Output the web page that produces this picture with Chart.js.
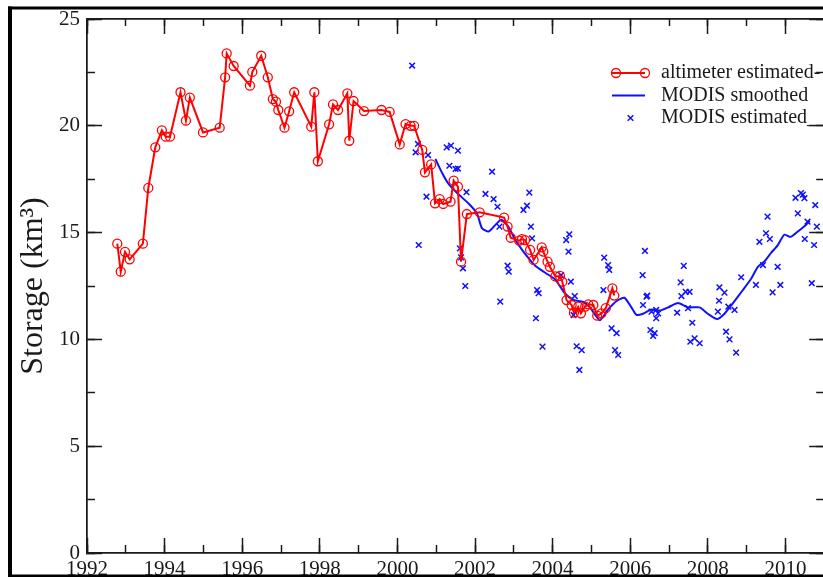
<!DOCTYPE html>
<html>
<head>
<meta charset="utf-8">
<title>Storage</title>
<script src="https://cdn.jsdelivr.net/npm/chart.js@4.4.1/dist/chart.umd.min.js"></script>
<style>
  html, body { margin: 0; padding: 0; background: #fff; overflow: hidden; }
  #wrap { position: relative; width: 823px; height: 577px; overflow: hidden; }
  canvas { display: block; }
</style>
</head>
<body>
<div id="wrap"><canvas id="chart" width="830" height="577"></canvas></div>
<script>
// altimeter estimated storage (km3)
const altYears = [
  1992.78, 1992.87, 1992.98, 1993.10, 1993.44, 1993.58, 1993.76, 1993.93, 1994.03, 1994.14,
  1994.41, 1994.55, 1994.65, 1994.99, 1995.42, 1995.56, 1995.60, 1995.78, 1996.20, 1996.26,
  1996.49, 1996.66, 1996.79, 1996.87, 1996.93, 1997.09, 1997.21, 1997.34, 1997.78, 1997.86,
  1997.95, 1998.24, 1998.34, 1998.47, 1998.71, 1998.76, 1998.87, 1999.14, 1999.59, 1999.80,
  2000.06, 2000.21, 2000.34, 2000.43, 2000.64, 2000.71, 2000.87, 2000.97, 2001.09, 2001.18,
  2001.37, 2001.45, 2001.56, 2001.64, 2001.79, 2002.12, 2002.75, 2002.84, 2002.92, 2003.14,
  2003.21, 2003.29, 2003.42, 2003.51, 2003.72, 2003.76, 2003.87, 2003.93, 2004.07, 2004.19,
  2004.25, 2004.36, 2004.49, 2004.55, 2004.66, 2004.73, 2004.84, 2004.92, 2005.05, 2005.15,
  2005.26, 2005.37, 2005.54, 2005.59
];
const altStorage = [
  14.48, 13.17, 14.10, 13.75, 14.48, 17.09, 18.99, 19.79, 19.49, 19.49,
  21.57, 20.24, 21.32, 19.69, 19.91, 22.27, 23.39, 22.80, 21.88, 22.52,
  23.28, 22.27, 21.25, 21.13, 20.74, 19.91, 20.68, 21.57, 19.96, 21.57,
  18.34, 20.07, 21.00, 20.74, 21.52, 19.30, 21.16, 20.69, 20.74, 20.65,
  19.13, 20.08, 20.00, 20.00, 18.87, 17.82, 18.19, 16.37, 16.57, 16.34,
  16.45, 17.43, 17.15, 13.64, 15.87, 15.95, 15.70, 15.28, 14.76, 14.62,
  14.69, 14.65, 14.19, 13.72, 14.31, 14.11, 13.64, 13.40, 12.95, 12.97,
  12.70, 11.84, 11.61, 11.25, 11.53, 11.22, 11.53, 11.64, 11.61, 11.11,
  11.22, 11.46, 12.39, 12.05
];

// MODIS smoothed storage
const smoothYears = [
  2000.98, 2001.15, 2001.31, 2001.54, 2001.84, 2002.05, 2002.18, 2002.35, 2002.52, 2002.68,
  2002.87, 2003.04, 2003.21, 2003.38, 2003.55, 2003.81, 2004.07, 2004.32, 2004.54, 2004.79,
  2004.96, 2005.22, 2005.43, 2005.65, 2005.85, 2006.03, 2006.16, 2006.33, 2006.55, 2006.76,
  2006.98, 2007.23, 2007.49, 2007.79, 2008.00, 2008.24, 2008.43, 2008.65, 2008.90, 2009.12,
  2009.29, 2009.46, 2009.63, 2009.80, 2009.97, 2010.14, 2010.32, 2010.49, 2010.63
];
const smoothStorage = [
  18.45, 17.80, 17.30, 16.85, 16.35, 15.90, 15.20, 15.05, 15.35, 15.60,
  15.25, 14.65, 14.20, 13.80, 13.45, 13.12, 12.80, 12.15, 11.85, 11.75,
  11.50, 10.90, 11.40, 11.80, 11.95, 11.50, 11.15, 11.20, 11.40, 11.35,
  11.50, 11.70, 11.50, 11.50, 11.20, 10.95, 11.20, 11.70, 12.30, 12.85,
  13.40, 13.65, 14.05, 14.40, 14.90, 14.80, 15.05, 15.30, 15.55
];

// MODIS estimated storage (individual scenes)
const modisYears = [
  2000.38, 2000.47, 2000.53, 2000.55, 2000.75, 2000.79, 2001.27, 2001.34, 2001.38, 2001.50,
  2001.56, 2001.56, 2001.61, 2001.64, 2001.69, 2001.75, 2001.78, 2002.27, 2002.44, 2002.48,
  2002.58, 2002.63, 2002.65, 2002.84, 2002.87, 2003.25, 2003.34, 2003.40, 2003.44, 2003.47,
  2003.57, 2003.60, 2003.64, 2003.74, 2004.22, 2004.35, 2004.41, 2004.43, 2004.47, 2004.54,
  2004.57, 2004.62, 2004.69, 2004.75, 2005.31, 2005.33, 2005.43, 2005.46, 2005.52, 2005.61,
  2005.65, 2005.69, 2006.32, 2006.33, 2006.38, 2006.42, 2006.44, 2006.52, 2006.55, 2006.59,
  2006.63, 2006.67, 2006.67, 2006.72, 2007.21, 2007.30, 2007.32, 2007.38, 2007.43, 2007.49,
  2007.53, 2007.55, 2007.60, 2007.66, 2007.79, 2008.26, 2008.29, 2008.30, 2008.43, 2008.47,
  2008.53, 2008.56, 2008.69, 2008.73, 2008.86, 2009.24, 2009.33, 2009.42, 2009.50, 2009.54,
  2009.60, 2009.67, 2009.80, 2009.87, 2010.26, 2010.32, 2010.40, 2010.45, 2010.49, 2010.50,
  2010.57, 2010.68, 2010.74, 2010.77, 2010.81
];
const modisStorage = [
  22.82, 18.76, 19.15, 14.42, 16.68, 18.63, 18.99, 18.13, 19.07, 17.98,
  18.84, 18.00, 14.26, 13.84, 13.33, 12.50, 16.89, 16.81, 17.85, 16.57,
  16.21, 15.28, 11.77, 13.45, 13.17, 16.06, 16.26, 16.87, 15.28, 14.73,
  10.99, 12.31, 12.16, 9.66, 13.01, 14.65, 14.11, 14.92, 12.70, 11.14,
  12.03, 9.68, 8.57, 9.50, 12.31, 13.83, 13.48, 13.25, 10.52, 9.50,
  10.29, 9.27, 13.01, 11.61, 14.14, 12.00, 12.05, 10.44, 11.30, 10.16,
  10.29, 11.38, 10.99, 11.22, 11.25, 12.67, 12.03, 13.44, 12.23, 11.46,
  12.23, 9.89, 10.78, 10.05, 9.82, 11.30, 11.81, 12.44, 12.19, 10.36,
  11.53, 10.00, 11.38, 9.38, 12.91, 12.55, 14.57, 13.48, 14.97, 15.75,
  14.70, 12.20, 13.40, 12.55, 16.63, 15.90, 16.85, 16.78, 16.61, 14.70,
  15.51, 12.63, 14.42, 16.29, 15.28
];

const xMin = 1992, xMax = 2011;
const yMin = 0, yMax = 25;

const FONT = "'Liberation Serif', 'Times New Roman', serif";
const INK = '#1a1a1a';

function toPoints(xs, ys) {
  return xs.map((x, i) => ({ x: x, y: ys[i] }));
}

function makeAxis(position, min, max, step, tickLen, weight, size, showLabels) {
  const horizontal = position === 'top' || position === 'bottom';
  return {
    type: 'linear',
    position: position,
    min: min,
    max: max,
    weight: weight,
    grid: { drawOnChartArea: false, drawTicks: true, tickLength: -tickLen, tickColor: INK, tickWidth: 1.5 },
    border: { display: true, color: INK, width: 1.5 },
    ticks: {
      display: showLabels,
      stepSize: step,
      includeBounds: false,
      autoSkip: false,
      maxRotation: 0,
      color: INK,
      font: { family: FONT, size: 21 },
      padding: horizontal ? 19 : 22,
      callback: (v) => String(v),
    },
    afterFit: (scale) => {
      if (horizontal) scale.height = size;
      else scale.width = size;
      // labels may overhang the plot edges; keep the plot box fixed
      scale.paddingTop = 0;
      scale.paddingBottom = 0;
      scale.paddingLeft = 0;
      scale.paddingRight = 0;
    },
  };
}

// legend drawn inside the plot, top right
const insetLegend = {
  id: 'insetLegend',
  afterDraw(chart, args, opts) {
    const ctx = chart.ctx;
    ctx.save();
    ctx.font = opts.size + 'px ' + FONT;
    ctx.textBaseline = 'middle';
    ctx.textAlign = 'left';
    chart.data.datasets.forEach((ds, i) => {
      const y = opts.top + i * opts.gap;
      if (ds.showLine) {
        ctx.strokeStyle = ds.borderColor;
        ctx.lineWidth = ds.borderWidth;
        ctx.beginPath();
        ctx.moveTo(opts.x1, y);
        ctx.lineTo(opts.x2, y);
        ctx.stroke();
      }
      if (ds.pointRadius > 0) {
        const pt = {
          pointStyle: ds.pointStyle,
          radius: ds.pointRadius,
          borderWidth: ds.pointBorderWidth,
          rotation: 0,
        };
        ctx.strokeStyle = ds.pointBorderColor;
        ctx.fillStyle = 'rgba(0,0,0,0)';
        ctx.lineWidth = ds.pointBorderWidth;
        if (ds.showLine) {
          Chart.helpers.drawPoint(ctx, pt, opts.x1 + 4, y);
          Chart.helpers.drawPoint(ctx, pt, opts.x2, y);
        } else {
          Chart.helpers.drawPoint(ctx, pt, (opts.x1 + opts.x2) / 2 + 2, y);
        }
      }
      ctx.fillStyle = INK;
      ctx.fillText(ds.label, opts.textX, y);
    });
    ctx.restore();
  },
};

// thick black border of the page around the figure
const pageFrame = {
  id: 'pageFrame',
  afterDraw(chart) {
    const ctx = chart.ctx;
    ctx.save();
    ctx.fillStyle = '#000';
    ctx.fillRect(8, 6.5, 830, 3);
    ctx.fillRect(8, 6.5, 4, 571);
    ctx.fillRect(8, 574.5, 830, 3);
    ctx.restore();
  },
};

const yLeft = makeAxis('left', yMin, yMax, 5, 15, 1, 87, true);
yLeft.title = {
  display: true,
  text: 'Storage (km³)',
  color: INK,
  font: { family: FONT, size: 32 },
  padding: { top: 14, bottom: 0 },
};

new Chart(document.getElementById('chart'), {
  type: 'scatter',
  data: {
    datasets: [
      {
        label: 'altimeter estimated-',
        data: toPoints(altYears, altStorage),
        showLine: true,
        borderColor: '#ff0000',
        borderWidth: 2,
        pointStyle: 'circle',
        pointRadius: 4.5,
        pointBorderWidth: 1.3,
        pointBorderColor: '#ff0000',
        pointBackgroundColor: 'rgba(0,0,0,0)',
        tension: 0,
      },
      {
        label: 'MODIS smoothed',
        data: toPoints(smoothYears, smoothStorage),
        showLine: true,
        borderColor: '#1010ff',
        borderWidth: 2,
        pointRadius: 0,
        tension: 0.2,
      },
      {
        label: 'MODIS estimated_',
        data: toPoints(modisYears, modisStorage),
        showLine: false,
        pointStyle: 'crossRot',
        pointRadius: 4,
        pointBorderWidth: 1.5,
        pointBorderColor: '#1010ff',
        borderColor: '#1010ff',
      },
    ],
  },
  options: {
    responsive: false,
    devicePixelRatio: 1,
    animation: false,
    layout: { padding: 0 },
    scales: {
      x: makeAxis('bottom', xMin, xMax, 2, 15, 1, 24, true),
      xMinor: makeAxis('bottom', xMin, xMax, 1, 8, 0, 0, false),
      xTop: makeAxis('top', xMin, xMax, 2, 15, 1, 19, false),
      xTopMinor: makeAxis('top', xMin, xMax, 1, 7, 0, 0, false),
      y: yLeft,
      yMinor: makeAxis('left', yMin, yMax, 2.5, 8, 0, 0, false),
      yRight: makeAxis('right', yMin, yMax, 5, 15, 1, 4, false),
      yRightMinor: makeAxis('right', yMin, yMax, 2.5, 8, 0, 0, false),
    },
    plugins: {
      legend: { display: false },
      tooltip: { enabled: false },
      insetLegend: { top: 73, gap: 22.5, x1: 612, x2: 645, textX: 661, size: 20 },
    },
  },
  plugins: [insetLegend, pageFrame],
});
</script>
</body>
</html>
